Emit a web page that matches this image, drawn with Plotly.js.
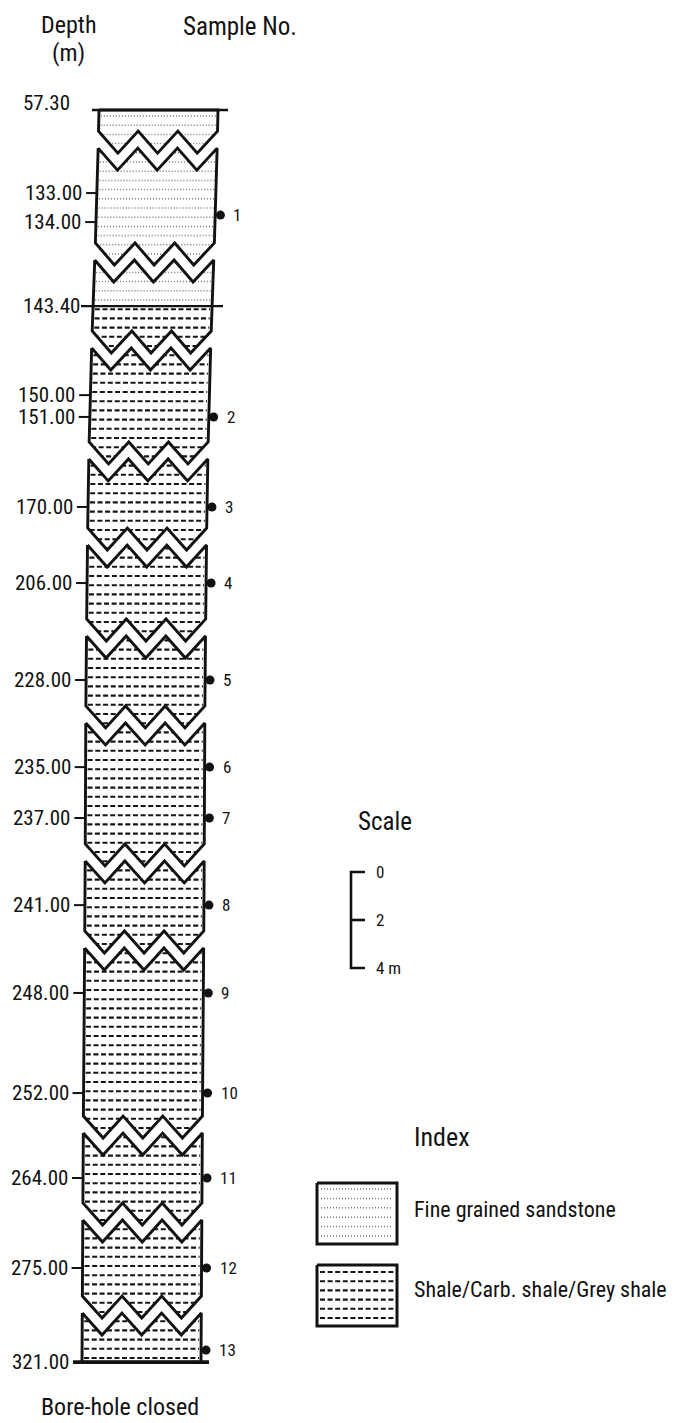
<!DOCTYPE html>
<html><head><meta charset="utf-8">
<script src="https://cdn.plot.ly/plotly-3.0.1.min.js"></script>
<style>html,body{margin:0;padding:0;background:#fff}</style>
</head><body><div id="chart" style="width:676px;height:1423px"></div>
<script>
// ---------------- data ----------------
const depthLabels = ['57.30','133.00','134.00','143.40','150.00','151.00','170.00','206.00','228.00','235.00','237.00','241.00','248.00','252.00','264.00','275.00','321.00'];
// position of each depth mark along the drawn (broken) log, in scale metres below the log top
const depthLogPos = [0, 3.46, 4.67, 8.17, 11.88, 12.79, 16.54, 19.71, 23.75, 27.38, 29.5, 33.13, 36.79, 40.96, 44.5, 48.25, 52.17];
const sampleNos = ['1','2','3','4','5','6','7','8','9','10','11','12','13'];
const sampleLogPos = [4.38, 12.79, 16.54, 19.71, 23.75, 27.38, 29.5, 33.13, 36.79, 40.96, 44.5, 48.25, 51.67];
// log breaks (zig-zag) along the drawn log, scale metres
const breakLogPos = [0.88, 5.54, 9.21, 13.83, 17.42, 21.21, 24.83, 30.58, 34.21, 41.92, 45.54, 49.42];
const contactLabel = '143.40';           // sandstone / shale contact
const lithologyNames = ['Fine grained sandstone', 'Shale/Carb. shale/Grey shale'];
const scaleValues = [0, 2, 4];
const scaleLabels = ['0', '2', '4 m'];

// ---------------- drawing helpers ----------------
const PXU = 24, TOP = 110;              // 24 px per scale metre, log top at 110 px
const W = 119, AMP = 22 / PXU, GAP = 17 / PXU;
const tiltPy = [110, 200, 306, 400, 500, 680, 900, 1100, 1362];
const tiltPx = [99, 97, 93, 90, 88, 86, 85, 83.5, 82];
const P = py => (py - TOP) / PXU;
function leftX(u) {
  const py = TOP + PXU * u;
  if (py <= tiltPy[0]) return tiltPx[0];
  for (let i = 1; i < tiltPy.length; i++) {
    if (py <= tiltPy[i]) {
      const t = (py - tiltPy[i - 1]) / (tiltPy[i] - tiltPy[i - 1]);
      return tiltPx[i - 1] + t * (tiltPx[i] - tiltPx[i - 1]);
    }
  }
  return tiltPx[tiltPx.length - 1];
}
const rightX = u => leftX(u) + W;
function zig(u0) {
  const pts = [];
  for (let i = 0; i <= 6; i++) {
    const u = u0 + (i % 2 ? AMP : 0);
    pts.push([leftX(u) + W * i / 6, u]);
  }
  return pts;
}
const FONT = 'Roboto Condensed, Liberation Sans, sans-serif';
const INK = '#121212';

const contactPos = depthLogPos[depthLabels.indexOf(contactLabel)];
const topPos = depthLogPos[0];
const bottomPos = depthLogPos[depthLogPos.length - 1];

// pieces of the log between breaks
const pieceTops = [null].concat(breakLogPos.map(b => b + GAP));
const pieceBots = breakLogPos.concat([null]);
const outX = [], outY = [];
pieceTops.forEach((t, i) => {
  const b = pieceBots[i];
  const topEdge = t === null ? [[leftX(topPos), topPos], [rightX(topPos), topPos]] : zig(t);
  const botEdge = (b === null ? [[leftX(bottomPos), bottomPos], [rightX(bottomPos), bottomPos]] : zig(b)).slice().reverse();
  const poly = topEdge.concat(botEdge, [topEdge[0]]);
  poly.forEach(p => { outX.push(p[0]); outY.push(p[1]); });
  outX.push(null); outY.push(null);
});
// white gaps of the breaks
const bandX = [], bandY = [];
breakLogPos.forEach(b => {
  const up = zig(b), lo = zig(b + GAP).reverse();
  up.concat(lo).forEach(p => { bandX.push(p[0]); bandY.push(p[1]); });
  bandX.push(null); bandY.push(null);
});
// lithology ornament rows
const dotX = [], dotY = [], dashX = [], dashY = [];
for (let py = 116; py < 1359; py += 9.2) {
  const u = P(py);
  if (Math.abs(u - contactPos) < 0.12) continue;
  const xs = [leftX(u) + 2, rightX(u) - 2];
  if (u < contactPos) { dotX.push(xs[0], xs[1], null); dotY.push(u, u, null); }
  else { dashX.push(xs[0], xs[1], null); dashY.push(u, u, null); }
}
// legend ornament
const lgSand = [1183, 1244], lgShale = [1265, 1326], lgX = [317, 397];
for (let py = lgSand[0] + 6; py < lgSand[1] - 3; py += 9.4) { dotX.push(lgX[0] + 4, lgX[1] - 4, null); dotY.push(P(py), P(py), null); }
for (let py = lgShale[0] + 7; py < lgShale[1] - 3; py += 9.2) { dashX.push(lgX[0] + 3, lgX[1] - 3, null); dashY.push(P(py), P(py), null); }
const boxX = [], boxY = [];
[lgSand, lgShale].forEach(r => {
  [[lgX[0], r[0]], [lgX[1], r[0]], [lgX[1], r[1]], [lgX[0], r[1]], [lgX[0], r[0]]].forEach(p => { boxX.push(p[0]); boxY.push(P(p[1])); });
  boxX.push(null); boxY.push(null);
});
// depth ticks
const tkX = [], tkY = [];
depthLabels.forEach((d, i) => {
  if (i === 0 || d === contactLabel || i === depthLabels.length - 1) return;
  const u = depthLogPos[i];
  tkX.push(leftX(u) - 11, leftX(u), null); tkY.push(u, u, null);
});
// scale bar
const sTop = P(872);
const sbX = [365, 351, 351, 365, null, 351, 365];
const sbY = [sTop + scaleValues[0], sTop + scaleValues[0], sTop + scaleValues[2], sTop + scaleValues[2], null, sTop + scaleValues[1], sTop + scaleValues[1]];

const line = (x, y, w, extra) => Object.assign({ type: 'scatter', mode: 'lines', x, y, hoverinfo: 'skip', line: { color: INK, width: w } }, extra || {});
const traces = [
  line(dotX, dotY, 1.5, { line: { color: '#7a7a7a', width: 1.5, dash: '1px,2px' } }),
  line(dashX, dashY, 2.1, { line: { color: '#161616', width: 2.1, dash: '5px,2.6px' } }),
  line(bandX, bandY, 0, { fill: 'toself', fillcolor: '#ffffff', line: { width: 0, color: 'rgba(0,0,0,0)' } }),
  line(outX, outY, 2.9),
  line(tkX, tkY, 2),
  line([leftX(topPos) - 7, rightX(topPos) + 10], [topPos, topPos], 2.4),
  line([leftX(contactPos) - 12, rightX(contactPos) + 11], [contactPos, contactPos], 2.2),
  line([leftX(bottomPos) - 9, rightX(bottomPos) + 8], [bottomPos, bottomPos], 3.6),
  line(boxX, boxY, 3),
  line(sbX, sbY, 2.6),
  { type: 'scatter', mode: 'markers', x: sampleLogPos.map(u => rightX(u) + 5), y: sampleLogPos, hoverinfo: 'skip',
    marker: { size: 9, color: INK } }
];

const ann = (text, x, y, size, xanchor, extra) => Object.assign({ text, x, y, xref: 'x', yref: 'y', showarrow: false,
  xanchor: xanchor || 'center', yanchor: 'middle', borderpad: 0, font: { family: FONT, size, color: INK } }, extra || {});
const annotations = [
  ann('Depth', 68, P(24.5), 24),
  ann('(m)', 68, P(53), 24),
  ann('Sample No.', 240, P(26), 25),
  ann('Scale', 357, P(821), 25, 'left'),
  ann('Index', 413, P(1137), 26, 'left'),
  ann(lithologyNames[0], 413, P(1209), 22, 'left'),
  ann(lithologyNames[1], 413, P(1289), 22, 'left'),
  ann('Bore-hole closed', 120, P(1407), 24)
];
depthLabels.forEach((d, i) => {
  const u = depthLogPos[i];
  let gap = 14;
  if (d === contactLabel || i === depthLabels.length - 1) gap = 12;
  if (i === 0) annotations.push(ann(d, leftX(u) - 28, u, 21, 'right', { yshift: 7 }));
  else annotations.push(ann(d, leftX(u) - gap, u, 21, 'right'));
});
sampleNos.forEach((s, i) => {
  const u = sampleLogPos[i];
  annotations.push(ann(s, rightX(u) + 17, u, 17, 'left'));
});
scaleLabels.forEach((s, i) => annotations.push(ann(s, 375, sTop + scaleValues[i], 17, 'left')));

const layout = {
  width: 676, height: 1423, margin: { l: 0, r: 0, t: 0, b: 0 },
  paper_bgcolor: '#ffffff', plot_bgcolor: '#ffffff', showlegend: false,
  xaxis: { range: [0, 676], visible: false, fixedrange: true },
  yaxis: { range: [P(1423), P(0)], visible: false, fixedrange: true },
  annotations
};
Plotly.newPlot('chart', traces, layout, { staticPlot: true, displayModeBar: false });
</script>
</body></html>
